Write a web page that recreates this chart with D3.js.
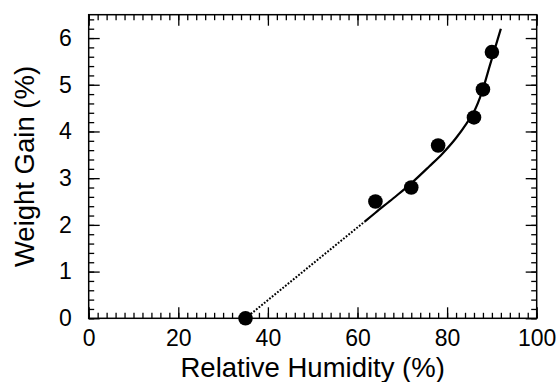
<!DOCTYPE html>
<html>
<head>
<meta charset="utf-8">
<script src="https://cdn.jsdelivr.net/npm/d3@7/dist/d3.min.js"></script>
<style>
  html, body { margin: 0; padding: 0; background: #fff; }
  svg { display: block; }
  text { font-family: "Liberation Sans", Arial, Helvetica, sans-serif; fill: #000; }
</style>
</head>
<body>
<svg id="chart" width="560" height="382"></svg>
<script>
// Measured points
const humidity = [35, 64, 72, 78, 86, 88, 90];
const weightGain = [0, 2.5, 2.8, 3.7, 4.3, 4.9, 5.7];

// Fitted curve (solid)
const fitHumidity = [61.6, 64, 68, 72, 76, 79, 82, 84.4, 86, 87.7, 89.6, 91, 92];
const fitGain     = [2.07, 2.26, 2.57, 2.89, 3.25, 3.53, 3.86, 4.18, 4.42, 4.82, 5.43, 5.88, 6.2];

// Extrapolation (dotted)
const extHumidity = [35, 61.6];
const extGain     = [0, 2.07];

// Axis ticks
const xMajorTicks = [0, 20, 40, 60, 80, 100];
const yMajorTicks = [0, 1, 2, 3, 4, 5, 6];
const xMinorTicks = d3.range(0, 101, 2);
const yMinorTicks = d3.range(0, 65, 2).map(v => v / 10);

const xTitle = "Relative Humidity (%)";
const yTitle = "Weight Gain (%)";

const svg = d3.select("#chart");
const L = 88.7, R = 536.7, T = 14.7, B = 318.3;

const x = d3.scaleLinear().domain([0, 100]).range([L, R]);
const y = d3.scaleLinear().domain([0, 6.5]).range([B, T]);

const majorLen = 11, minorLen = 5.5;

function styleAxis(g) {
  g.select(".domain").remove();
  g.selectAll(".tick line").attr("stroke", "#000").attr("stroke-width", 1.3);
}

// minor ticks
svg.append("g").attr("transform", `translate(0,${B})`)
  .call(d3.axisBottom(x).tickValues(xMinorTicks).tickSize(-minorLen).tickFormat(""))
  .call(styleAxis);
svg.append("g").attr("transform", `translate(0,${T})`)
  .call(d3.axisTop(x).tickValues(xMinorTicks).tickSize(-minorLen).tickFormat(""))
  .call(styleAxis);
svg.append("g").attr("transform", `translate(${L},0)`)
  .call(d3.axisLeft(y).tickValues(yMinorTicks).tickSize(-minorLen).tickFormat(""))
  .call(styleAxis);
svg.append("g").attr("transform", `translate(${R},0)`)
  .call(d3.axisRight(y).tickValues(yMinorTicks).tickSize(-minorLen).tickFormat(""))
  .call(styleAxis);

// major ticks with labels
const gx = svg.append("g").attr("transform", `translate(0,${B})`)
  .call(d3.axisBottom(x).tickValues(xMajorTicks).tickSize(-majorLen).tickPadding(11.5).tickFormat(d3.format("d")))
  .call(styleAxis);
gx.selectAll("text").attr("font-size", 23).attr("fill", "#000");

const gy = svg.append("g").attr("transform", `translate(${L},0)`)
  .call(d3.axisLeft(y).tickValues(yMajorTicks).tickSize(-majorLen).tickPadding(17).tickFormat(d3.format("d")))
  .call(styleAxis);
gy.selectAll("text").attr("font-size", 23).attr("fill", "#000");

svg.append("g").attr("transform", `translate(0,${T})`)
  .call(d3.axisTop(x).tickValues(xMajorTicks).tickSize(-majorLen).tickFormat(""))
  .call(styleAxis);
svg.append("g").attr("transform", `translate(${R},0)`)
  .call(d3.axisRight(y).tickValues(yMajorTicks).tickSize(-majorLen).tickFormat(""))
  .call(styleAxis);

// frame
svg.append("rect")
  .attr("x", L).attr("y", T).attr("width", R - L).attr("height", B - T)
  .attr("fill", "none").attr("stroke", "#000").attr("stroke-width", 1.5);

// dotted extrapolation
const line = d3.line().x(d => x(d[0])).y(d => y(d[1]));
svg.append("path")
  .datum(d3.zip(extHumidity, extGain))
  .attr("d", line)
  .attr("fill", "none").attr("stroke", "#000").attr("stroke-width", 2)
  .attr("stroke-dasharray", "1.8,1.6");

// solid fit
svg.append("path")
  .datum(d3.zip(fitHumidity, fitGain))
  .attr("d", line.curve(d3.curveMonotoneX))
  .attr("fill", "none").attr("stroke", "#000").attr("stroke-width", 2.2);

// points
svg.append("g").selectAll("circle")
  .data(d3.zip(humidity, weightGain))
  .join("circle")
  .attr("cx", d => x(d[0])).attr("cy", d => y(d[1]))
  .attr("r", 7.3).attr("fill", "#000");

// titles
svg.append("text")
  .attr("x", (L + R) / 2).attr("y", 377)
  .attr("text-anchor", "middle").attr("font-size", 27.5)
  .text(xTitle);
svg.append("text")
  .attr("transform", `translate(34,${(T + B) / 2}) rotate(-90)`)
  .attr("text-anchor", "middle").attr("font-size", 27.5)
  .text(yTitle);
</script>
</body>
</html>
